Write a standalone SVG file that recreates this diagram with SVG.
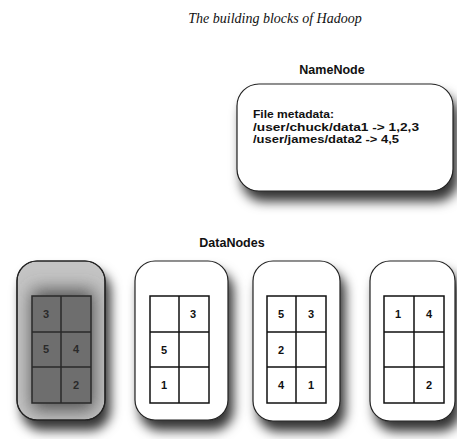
<svg xmlns="http://www.w3.org/2000/svg" width="457" height="439" viewBox="0 0 457 439">
<defs>
<filter id="shadow" x="-30%" y="-30%" width="170%" height="170%">
<feDropShadow dx="5" dy="10" stdDeviation="6" flood-color="#000" flood-opacity="0.8"/>
</filter>
<filter id="inner" x="-50%" y="-50%" width="200%" height="200%">
<feGaussianBlur stdDeviation="9"/>
</filter>
<clipPath id="c1"><rect x="17" y="261" width="88" height="159" rx="20"/></clipPath>
<style>
.box{fill:#fff;stroke:#222;stroke-width:1.2}
.grid{fill:#fff;stroke:#111;stroke-width:1.5}
.gridd{fill:#6e6e6e;stroke:#2a2a2a;stroke-width:1.5}
.num{font-family:"Liberation Sans",Arial,sans-serif;font-weight:bold;font-size:11px;fill:#111;text-anchor:middle}
.numd{fill:#2a2a2a}
.lbl{font-family:"Liberation Sans",Arial,sans-serif;font-weight:bold;font-size:12.5px;fill:#111}
.meta{font-family:"Liberation Sans",Arial,sans-serif;font-weight:bold;font-size:11.5px;fill:#111}
</style>
</defs>
<rect width="457" height="439" fill="#fff"/>
<text x="275" y="23" font-family="'Liberation Serif','Times New Roman',serif" font-style="italic" font-size="14" fill="#111" text-anchor="middle">The building blocks of Hadoop</text>

<g id="namenode">
<text class="lbl" x="332" y="74" text-anchor="middle">NameNode</text>
<rect class="box" x="237" y="84" width="216" height="107" rx="22" filter="url(#shadow)"/>
<text class="meta" x="253" y="118" textLength="81" lengthAdjust="spacingAndGlyphs">File metadata:</text>
<text class="meta" x="253" y="130.5" textLength="166" lengthAdjust="spacingAndGlyphs">/user/chuck/data1 -&gt; 1,2,3</text>
<text class="meta" x="253" y="143" textLength="146" lengthAdjust="spacingAndGlyphs">/user/james/data2 -&gt; 4,5</text>
</g>

<text class="lbl" id="datanodes-label" x="232" y="247" text-anchor="middle">DataNodes</text>

<g id="datanode1">
<rect x="17" y="261" width="88" height="159" rx="20" fill="#c4c4c4" stroke="#222" stroke-width="1.2" filter="url(#shadow)"/>
<g clip-path="url(#c1)">
<rect x="32" y="290" width="62" height="120" fill="#4f4f4f" filter="url(#inner)"/>
</g>
<rect x="17" y="261" width="88" height="159" rx="20" fill="none" stroke="#222" stroke-width="1.2"/>
<rect class="gridd" x="32" y="296" width="59" height="107"/>
<path d="M61 296V403M32 332H91M32 367H91" stroke="#2a2a2a" stroke-width="1.5" fill="none"/>
<text class="num numd" x="46" y="318">3</text>
<text class="num numd" x="46" y="353">5</text>
<text class="num numd" x="76" y="353">4</text>
<text class="num numd" x="76" y="389">2</text>
</g>

<g id="datanode2">
<rect class="box" x="135" y="261" width="93" height="159" rx="20" filter="url(#shadow)"/>
<rect class="grid" x="150" y="296" width="59" height="107"/>
<path d="M179 296V403M150 332H209M150 367H209" stroke="#111" stroke-width="1.5" fill="none"/>
<text class="num" x="193" y="318">3</text>
<text class="num" x="164" y="354">5</text>
<text class="num" x="164" y="389">1</text>
</g>

<g id="datanode3">
<rect class="box" x="253" y="261" width="87" height="160" rx="20" filter="url(#shadow)"/>
<rect class="grid" x="267" y="296" width="59" height="107"/>
<path d="M296 296V403M267 332H326M267 367H326" stroke="#111" stroke-width="1.5" fill="none"/>
<text class="num" x="281" y="318">5</text>
<text class="num" x="311" y="318">3</text>
<text class="num" x="281" y="354">2</text>
<text class="num" x="281" y="389">4</text>
<text class="num" x="311" y="389">1</text>
</g>

<g id="datanode4">
<rect class="box" x="370" y="261" width="85" height="160" rx="20" filter="url(#shadow)"/>
<rect class="grid" x="384" y="296" width="60" height="107"/>
<path d="M414 296V403M384 332H444M384 367H444" stroke="#111" stroke-width="1.5" fill="none"/>
<text class="num" x="398" y="318">1</text>
<text class="num" x="429" y="318">4</text>
<text class="num" x="429" y="389">2</text>
</g>
<g id="connectors"/>
</svg>
